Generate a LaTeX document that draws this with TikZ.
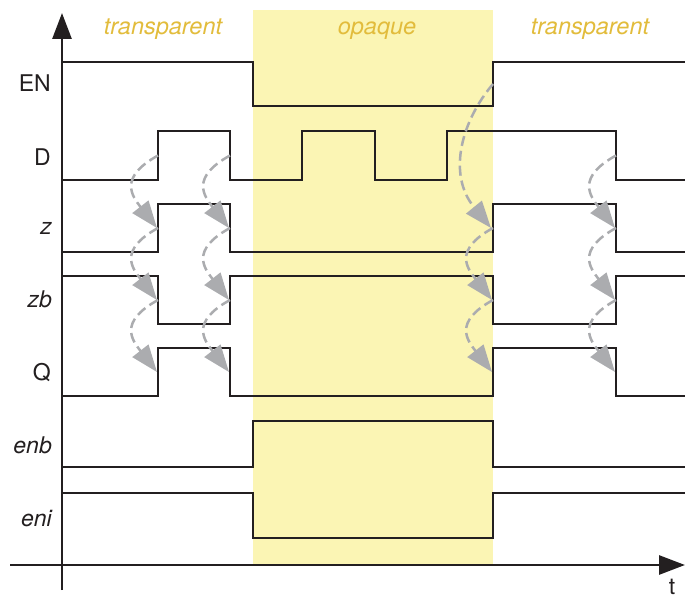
\documentclass[tikz,border=0pt]{standalone}
\usepackage{fontspec}
\setmainfont{TeX Gyre Heros}
\usetikzlibrary{arrows.meta}
\definecolor{sigblack}{HTML}{231F20}
\definecolor{phasefill}{HTML}{FBF5B4}
\definecolor{phasetext}{HTML}{E2BC3C}
\definecolor{causegray}{HTML}{ABACAF}
\begin{document}
\begin{tikzpicture}[x=1pt,y=-1pt,
  wave/.style={line width=2.8pt, color=sigblack, line join=miter},
  axisline/.style={line width=2.8pt, color=sigblack, -{Triangle[length=26pt,width=19pt]}},
  siglabel/.style={anchor=base east, font=\fontsize{23}{27}\selectfont, text=sigblack, inner sep=0pt},
  phaselabel/.style={anchor=base, font=\fontsize{23.5}{28}\selectfont\itshape, text=phasetext, inner sep=0pt},
  cause/.style={line width=2.5pt, color=causegray, dash pattern=on 10pt off 5pt,
    -{Triangle[length=27pt,width=20pt]}}
]
\useasboundingbox (0,0) rectangle (685,599);

% opaque phase of the latch
\fill[phasefill] (253,10) rectangle (493,565);

% phase names
\node[phaselabel] (ph1) at (163,35) {transparent};
\node[phaselabel] (ph2) at (377,35) {opaque};
\node[phaselabel] (ph3) at (590,35) {transparent};

% axes
\draw[axisline] (62,590) -- (62,13);
\draw[axisline] (10,565) -- (685,565);
\node[anchor=base, font=\fontsize{23}{27}\selectfont, text=sigblack, inner sep=0pt] (tlab) at (672,594) {t};

% signal names
\node[siglabel] (lEN)  at (51,92)  {EN};
\node[siglabel] (lD)   at (51,165) {D};
\node[siglabel] (lz)   at (52,234) {\itshape z};
\node[siglabel] (lzb)  at (52,307) {\itshape zb};
\node[siglabel] (lQ)   at (51,380) {Q};
\node[siglabel] (lenb) at (52,453) {\itshape enb};
\node[siglabel] (leni) at (52,526) {\itshape eni};

% waveforms
\draw[wave] (62,62) -- (253,62) -- (253,106) -- (493,106) -- (493,62) -- (685,62);
\draw[wave] (62,180) -- (158,180) -- (158,131) -- (230,131) -- (230,180) -- (302,180)
  -- (302,131) -- (375,131) -- (375,180) -- (447,180) -- (447,131) -- (616,131)
  -- (616,180) -- (685,180);
\draw[wave] (62,252) -- (158,252) -- (158,204) -- (230,204) -- (230,252) -- (493,252)
  -- (493,204) -- (616,204) -- (616,252) -- (685,252);
\draw[wave] (62,276) -- (158,276) -- (158,324) -- (230,324) -- (230,276) -- (493,276)
  -- (493,324) -- (616,324) -- (616,276) -- (685,276);
\draw[wave] (62,396) -- (158,396) -- (158,348) -- (230,348) -- (230,396) -- (493,396)
  -- (493,348) -- (616,348) -- (616,396) -- (685,396);
\draw[wave] (62,467) -- (253,467) -- (253,421) -- (493,421) -- (493,467) -- (685,467);
\draw[wave] (62,493) -- (253,493) -- (253,538) -- (493,538) -- (493,493) -- (685,493);

% edge midpoints
\foreach \x/\n in {158/a, 230/b, 493/c, 616/d} {
  \coordinate (D\n)  at (\x,155.5);
  \coordinate (z\n)  at (\x,228);
  \coordinate (zb\n) at (\x,300);
  \coordinate (Q\n)  at (\x,372);
}
\coordinate (ENc) at (493,84);

% causality arrows
\foreach \n in {a, b, d} {
  \draw[cause] (D\n) .. controls +(-40,22) and +(-25,-32) .. ([xshift=-1pt]z\n);
  \draw[cause] (z\n) .. controls +(-40,22) and +(-25,-32) .. ([xshift=-1pt]zb\n);
  \draw[cause] (zb\n) .. controls +(-40,22) and +(-25,-32) .. ([xshift=-1pt]Q\n);
}
\draw[cause] (ENc) .. controls +(-30,35) and +(-45,-55) .. ([xshift=-2pt]zc);
\draw[cause] (zc) .. controls +(-40,22) and +(-25,-32) .. ([xshift=-1pt]zbc);
\draw[cause] (zbc) .. controls +(-40,22) and +(-25,-32) .. ([xshift=-1pt]Qc);
\end{tikzpicture}
\end{document}
